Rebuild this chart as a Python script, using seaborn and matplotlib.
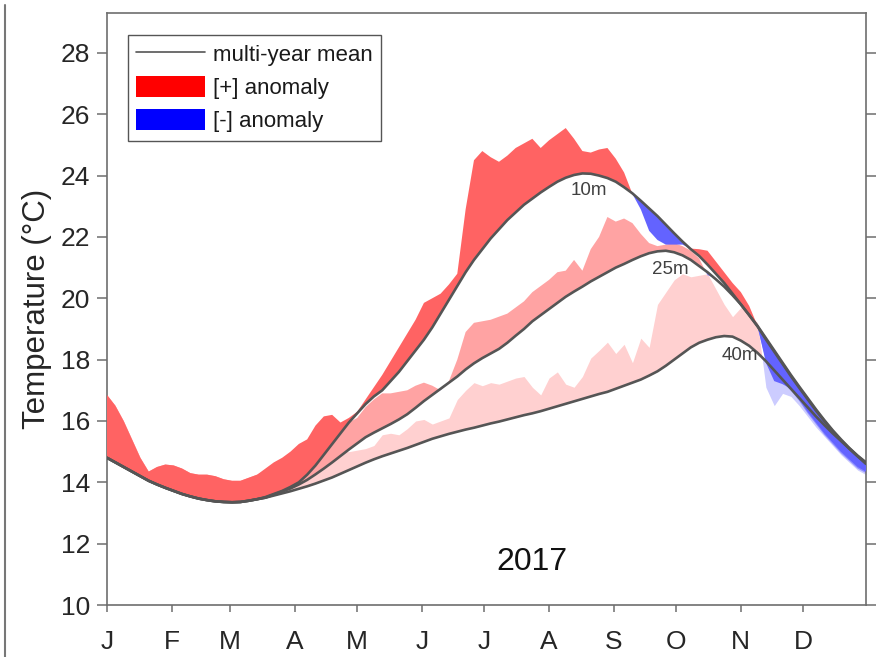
import numpy as np
import pandas as pd
import matplotlib
matplotlib.use("Agg")
import matplotlib.pyplot as plt
from matplotlib.patches import Patch
from matplotlib.lines import Line2D
import seaborn as sns

# Day-of-year sampling (every 4 days, 1 Jan .. 31 Dec)
day_of_year = list(range(1, 366, 4))

# Multi-year mean temperature (degC) per depth
mean_10m = [14.80, 14.65, 14.50, 14.35, 14.20, 14.05, 13.93, 13.82, 13.72, 13.62,
            13.54, 13.47, 13.42, 13.38, 13.36, 13.35, 13.36, 13.40, 13.45, 13.52,
            13.62, 13.72, 13.85, 14.00, 14.25, 14.55, 14.90, 15.25, 15.60, 15.95,
            16.25, 16.55, 16.80, 17.00, 17.30, 17.60, 17.95, 18.30, 18.65, 19.05,
            19.50, 19.95, 20.40, 20.85, 21.25, 21.60, 21.95, 22.25, 22.55, 22.80,
            23.05, 23.25, 23.45, 23.63, 23.80, 23.93, 24.02, 24.07, 24.06, 24.00,
            23.92, 23.80, 23.62, 23.42, 23.18, 22.93, 22.68, 22.40, 22.12, 21.85,
            21.60, 21.38, 21.10, 20.80, 20.50, 20.15, 19.80, 19.45, 19.10, 18.70,
            18.30, 17.90, 17.50, 17.12, 16.75, 16.38, 16.03, 15.70, 15.40, 15.12,
            14.87, 14.65]
mean_25m = [14.80, 14.65, 14.50, 14.35, 14.20, 14.05, 13.93, 13.82, 13.72, 13.62,
            13.54, 13.47, 13.42, 13.38, 13.36, 13.35, 13.36, 13.40, 13.45, 13.50,
            13.60, 13.70, 13.80, 13.93, 14.08, 14.26, 14.45, 14.65, 14.86, 15.07,
            15.27, 15.47, 15.62, 15.76, 15.90, 16.05, 16.22, 16.43, 16.65, 16.85,
            17.05, 17.25, 17.45, 17.68, 17.88, 18.05, 18.20, 18.35, 18.55, 18.78,
            19.00, 19.25, 19.45, 19.65, 19.85, 20.05, 20.22, 20.38, 20.55, 20.70,
            20.85, 21.00, 21.12, 21.25, 21.37, 21.47, 21.53, 21.55, 21.50, 21.40,
            21.25, 21.05, 20.85, 20.62, 20.38, 20.10, 19.80, 19.45, 19.08, 18.66,
            18.26, 17.86, 17.46, 17.08, 16.71, 16.34, 16.00, 15.67, 15.37, 15.10,
            14.85, 14.63]
mean_40m = [14.80, 14.65, 14.50, 14.35, 14.20, 14.05, 13.93, 13.82, 13.72, 13.62,
            13.54, 13.47, 13.42, 13.38, 13.36, 13.35, 13.36, 13.40, 13.45, 13.50,
            13.57, 13.64, 13.71, 13.79, 13.87, 13.96, 14.06, 14.16, 14.28, 14.40,
            14.52, 14.64, 14.75, 14.85, 14.94, 15.03, 15.12, 15.22, 15.32, 15.42,
            15.50, 15.58, 15.65, 15.72, 15.78, 15.85, 15.92, 15.98, 16.05, 16.12,
            16.19, 16.25, 16.32, 16.40, 16.48, 16.56, 16.64, 16.72, 16.80, 16.88,
            16.95, 17.05, 17.15, 17.25, 17.35, 17.48, 17.62, 17.80, 18.00, 18.20,
            18.40, 18.55, 18.65, 18.73, 18.77, 18.75, 18.62, 18.45, 18.22, 17.95,
            17.65, 17.35, 17.05, 16.75, 16.45, 16.15, 15.87, 15.60, 15.35, 15.10,
            14.85, 14.60]

# Observed 2017 temperature (degC) per depth
obs_10m = [16.85, 16.50, 16.00, 15.40, 14.80, 14.35, 14.50, 14.58, 14.55, 14.45,
           14.30, 14.25, 14.25, 14.20, 14.10, 14.05, 14.05, 14.15, 14.25, 14.45,
           14.65, 14.80, 15.00, 15.25, 15.40, 15.85, 16.15, 16.20, 15.95, 16.10,
           16.30, 16.70, 17.10, 17.50, 17.95, 18.40, 18.85, 19.30, 19.85, 20.00,
           20.15, 20.45, 20.80, 22.90, 24.50, 24.80, 24.60, 24.45, 24.65, 24.90,
           25.05, 25.20, 24.90, 25.15, 25.35, 25.55, 25.20, 24.80, 24.75, 24.85,
           24.90, 24.55, 24.10, 23.40, 22.90, 22.20, 21.90, 21.75, 21.75, 21.75,
           21.62, 21.60, 21.55, 21.20, 20.85, 20.50, 20.20, 19.75, 19.10, 17.90,
           17.30, 17.20, 17.05, 16.70, 16.30, 15.95, 15.60, 15.30, 15.00, 14.75,
           14.50, 14.35]
obs_25m = [16.85, 16.50, 16.00, 15.40, 14.80, 14.35, 14.50, 14.58, 14.55, 14.45,
           14.30, 14.25, 14.25, 14.20, 14.10, 14.05, 14.05, 14.15, 14.25, 14.40,
           14.55, 14.65, 14.80, 14.95, 15.10, 15.30, 15.45, 15.60, 15.75, 15.95,
           16.10, 16.45, 16.70, 16.90, 16.90, 16.95, 17.00, 17.15, 17.25, 17.15,
           17.00, 17.30, 18.00, 18.90, 19.20, 19.25, 19.30, 19.40, 19.50, 19.70,
           19.90, 20.20, 20.40, 20.60, 20.85, 20.90, 21.25, 20.90, 21.60, 22.00,
           22.65, 22.50, 22.60, 22.45, 22.10, 21.80, 21.70, 21.75, 21.80, 21.70,
           21.55, 21.30, 20.75, 20.65, 20.40, 20.10, 19.80, 19.45, 19.05, 18.00,
           17.40, 17.25, 17.00, 16.65, 16.25, 15.90, 15.55, 15.25, 14.95, 14.70,
           14.45, 14.30]
obs_40m = [16.85, 16.50, 16.00, 15.40, 14.80, 14.35, 14.50, 14.58, 14.55, 14.45,
           14.30, 14.25, 14.25, 14.20, 14.10, 14.05, 14.05, 14.15, 14.25, 14.30,
           14.40, 14.45, 14.55, 14.60, 14.70, 14.80, 14.90, 14.95, 15.00, 15.00,
           15.05, 15.10, 15.20, 15.55, 15.60, 15.55, 15.75, 16.00, 16.05, 15.90,
           16.00, 16.10, 16.70, 17.00, 17.25, 17.15, 17.25, 17.20, 17.30, 17.40,
           17.45, 17.10, 16.85, 17.40, 17.60, 17.20, 17.10, 17.45, 18.05, 18.30,
           18.57, 18.20, 18.50, 17.90, 18.70, 18.40, 19.80, 20.20, 20.60, 20.80,
           20.70, 20.75, 20.80, 20.30, 19.80, 19.40, 19.70, 19.50, 19.20, 17.10,
           16.50, 16.90, 16.80, 16.50, 16.15, 15.80, 15.50, 15.20, 14.90, 14.65,
           14.40, 14.25]

depth_labels = ["10m", "25m", "40m"]
month_starts = [1, 32, 60, 91, 121, 152, 182, 213, 244, 274, 305, 335]
month_labels = ["J", "F", "M", "A", "M", "J", "J", "A", "S", "O", "N", "D"]
year_label = "2017"

sns.set_theme(style="white")
plt.rcParams["font.family"] = ["Liberation Sans", "DejaVu Sans"]

fig = plt.figure(figsize=(8.96, 6.57), dpi=100)
ax = fig.add_axes([0.1194, 0.0791, 0.8471, 0.9011])

x = np.array(day_of_year, dtype=float)
means = [np.array(mean_10m), np.array(mean_25m), np.array(mean_40m)]
obs = [np.array(obs_10m), np.array(obs_25m), np.array(obs_40m)]
warm = ["#FF6363", "#FFA3A3", "#FFD0D0"]
cool = ["#6363FF", "#8C8CFF", "#CCCCFF"]

# Anomaly bands: deepest drawn first so the shallow layer sits on top
for i in (2, 1, 0):
    m, o = means[i], obs[i]
    ax.fill_between(x, m, o, where=o >= m, interpolate=True,
                    color=warm[i], linewidth=0, zorder=1 + (2 - i))
    ax.fill_between(x, m, o, where=o <= m, interpolate=True,
                    color=cool[i], linewidth=0, zorder=1 + (2 - i))

# Multi-year mean curves
df = pd.DataFrame({
    "day": day_of_year * 3,
    "temp": mean_10m + mean_25m + mean_40m,
    "depth": sum([[d] * len(day_of_year) for d in depth_labels], []),
})
sns.lineplot(data=df, x="day", y="temp", hue="depth",
             palette={d: "#555555" for d in depth_labels},
             linewidth=1.9, legend=False, ax=ax, zorder=6, sort=False)

# Depth annotations
ax.text(232, 23.5, "10m", fontsize=13.5, color="#404040", ha="center", va="center", zorder=7)
ax.text(271, 20.95, "25m", fontsize=13.5, color="#404040", ha="center", va="center", zorder=7)
ax.text(304.5, 18.15, "40m", fontsize=13.5, color="#404040", ha="center", va="center", zorder=7)
ax.text(205, 11.4, year_label, fontsize=23, color="#111111", ha="center", va="center")

ax.set_xlim(1, 365)
ax.set_ylim(10, 29.3)
ax.set_xticks(month_starts)
ax.set_xticklabels(month_labels, fontsize=19,
                   family=["Liberation Sans Narrow", "Liberation Sans", "DejaVu Sans"])
ax.set_yticks(np.arange(10, 29, 2))
ax.set_xlabel("")
ax.set_ylabel("Temperature (°C)", fontsize=22.5, color="#262626", labelpad=6)

ax.tick_params(axis="y", direction="out", length=7, width=1.1, color="#6e6e6e",
               labelsize=19, labelcolor="#262626", left=True, right=True,
               labelright=False, pad=5)
ax.tick_params(axis="x", direction="out", length=5, width=1.1, color="#6e6e6e",
               labelcolor="#262626", bottom=True, top=False, pad=13)
for s in ax.spines.values():
    s.set_color("#6e6e6e")
    s.set_linewidth(1.2)
    s.set_visible(True)

handles = [Line2D([], [], color="#555555", lw=1.2),
           Patch(facecolor="#FF0000", edgecolor="none"),
           Patch(facecolor="#0000FF", edgecolor="none")]
leg = ax.legend(handles, ["multi-year mean", "[+] anomaly", "[-] anomaly"],
                loc="upper left", bbox_to_anchor=(0.0277, 0.9628),
                fontsize=16.0, frameon=True, fancybox=False, framealpha=1,
                edgecolor="#555555", handlelength=3.1, handleheight=1.05,
                labelspacing=0.45, borderpad=0.38, handletextpad=0.35,
                borderaxespad=0)
leg.get_frame().set_linewidth(1.0)
for t in leg.get_texts():
    t.set_color("#1a1a1a")

# Panel border on the left
fig.add_artist(Line2D([0.0055, 0.0055], [0.0, 0.992], transform=fig.transFigure,
                      color="#777777", lw=1.5))

fig.savefig("out.png", dpi=100)
